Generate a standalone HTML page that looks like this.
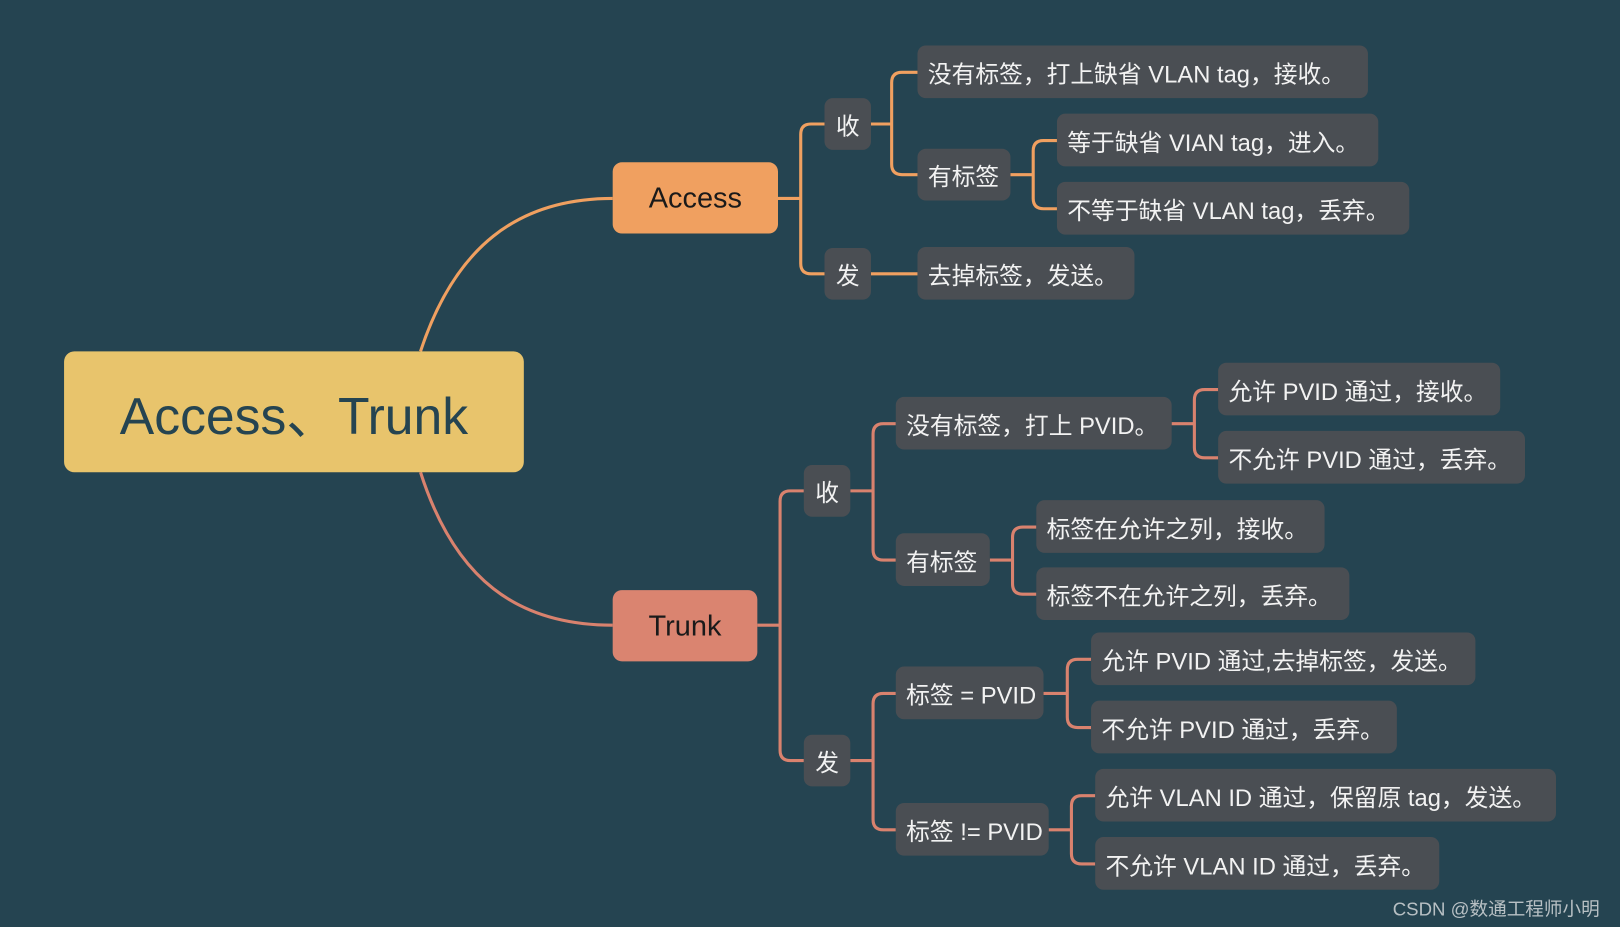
<!DOCTYPE html>
<html><head><meta charset="utf-8"><style>
html,body{margin:0;padding:0;background:#254451;overflow:hidden}
#wrap{width:1568px;height:897px;position:relative;transform:scale(1.0332,1.0334);transform-origin:0 0;background:#254451}
svg{position:absolute;left:0;top:0}
.n{position:absolute;box-sizing:border-box;background:#4a4e53;color:#f2f2f2;border-radius:8px;font-family:"Liberation Sans","Noto Sans CJK SC",sans-serif;font-size:23px;display:flex;align-items:center;padding-left:10px;white-space:nowrap}
.c{justify-content:center;padding-left:0}
</style></head><body><div id="wrap">
<svg id="s" width="1568" height="897"></svg>
<div class="n c" style="left:62px;top:340px;width:445px;height:117px;background:#e8c46c;color:#254451;font-size:50px;border-radius:10px">Access、Trunk</div>
<div class="n c" style="left:593px;top:157px;width:160px;height:69px;background:#f0a060;color:#1a1a1a;font-size:28px;border-radius:9px">Access</div>
<div class="n c" style="left:593px;top:571px;width:140px;height:69px;background:#da8470;color:#1a1a1a;font-size:28px;border-radius:9px">Trunk</div>
<div class="n c" style="left:798px;top:95px;width:45px;height:50px">收</div>
<div class="n c" style="left:798px;top:240px;width:45px;height:50px">发</div>
<div class="n" style="left:888px;top:44px;width:436px;height:51px">没有标签，打上缺省 VLAN tag，接收。</div>
<div class="n" style="left:888px;top:144px;width:90px;height:50px">有标签</div>
<div class="n" style="left:1023px;top:110px;width:311px;height:51px">等于缺省 VIAN tag，进入。</div>
<div class="n" style="left:1023px;top:176px;width:341px;height:51px">不等于缺省 VLAN tag，丢弃。</div>
<div class="n" style="left:888px;top:239px;width:210px;height:51px">去掉标签，发送。</div>
<div class="n c" style="left:778px;top:450px;width:45px;height:50px">收</div>
<div class="n c" style="left:778px;top:711px;width:45px;height:50px">发</div>
<div class="n" style="left:867px;top:384px;width:267px;height:51px">没有标签，打上 PVID。</div>
<div class="n" style="left:867px;top:516px;width:91px;height:51px">有标签</div>
<div class="n" style="left:1179px;top:351px;width:273px;height:51px">允许 PVID 通过，接收。</div>
<div class="n" style="left:1179px;top:417px;width:297px;height:51px">不允许 PVID 通过，丢弃。</div>
<div class="n" style="left:1003px;top:484px;width:279px;height:51px">标签在允许之列，接收。</div>
<div class="n" style="left:1003px;top:549px;width:303px;height:51px">标签不在允许之列，丢弃。</div>
<div class="n" style="left:867px;top:645px;width:143px;height:51px">标签 = PVID</div>
<div class="n" style="left:867px;top:777px;width:148px;height:51px">标签 != PVID</div>
<div class="n" style="left:1056px;top:612px;width:372px;height:51px">允许 PVID 通过,去掉标签，发送。</div>
<div class="n" style="left:1056px;top:678px;width:296px;height:51px">不允许 PVID 通过，丢弃。</div>
<div class="n" style="left:1060px;top:744px;width:446px;height:51px">允许 VLAN ID 通过，保留原 tag，发送。</div>
<div class="n" style="left:1060px;top:810px;width:333px;height:51px">不允许 VLAN ID 通过，丢弃。</div>
<div style="position:absolute;left:1348px;top:866px;font-family:'Liberation Sans','Noto Sans CJK SC',sans-serif;font-size:18px;color:#b8c0c4;white-space:nowrap">CSDN @数通工程师小明</div>
</div>
<script>
var s=document.getElementById('s'),d='';
var O='#f0a060',T='#d9826e';
function p(dd,c){s.innerHTML+='<path d="'+dd+'" fill="none" stroke="'+c+'" stroke-width="3"/>';}
p('M407,340 C440,240 500,192 593,192',O);
p('M407,457 C440,560 500,605 593,605',T);
function e(pr,py,bx,kids,c){
 var dd='M'+pr+','+py+' H'+bx;
 kids.forEach(function(k){var cl=k[0],cy=k[1],r=10;
  if(Math.abs(cy-py)<2){dd+=' M'+bx+','+cy+' H'+cl;return;}
  var sg=cy>py?1:-1;
  dd+=' M'+bx+','+py+' V'+(cy-sg*r)+' Q'+bx+','+cy+' '+(bx+r)+','+cy+' H'+cl;});
 p(dd,c);}
e(753,192,775,[[798,120],[798,265]],O);
e(843,120,863,[[888,70],[888,169]],O);
e(978,169,1000,[[1023,136],[1023,202]],O);
e(843,265,865,[[888,265]],O);
e(733,605,755,[[778,475],[778,736]],T);
e(823,475,845,[[867,410],[867,542]],T);
e(1134,410,1156,[[1179,377],[1179,443]],T);
e(958,542,980,[[1003,510],[1003,575]],T);
e(823,736,845,[[867,671],[867,803]],T);
e(1010,671,1033,[[1056,638],[1056,704]],T);
e(1015,803,1037,[[1060,770],[1060,836]],T);
</script>
</body></html>
